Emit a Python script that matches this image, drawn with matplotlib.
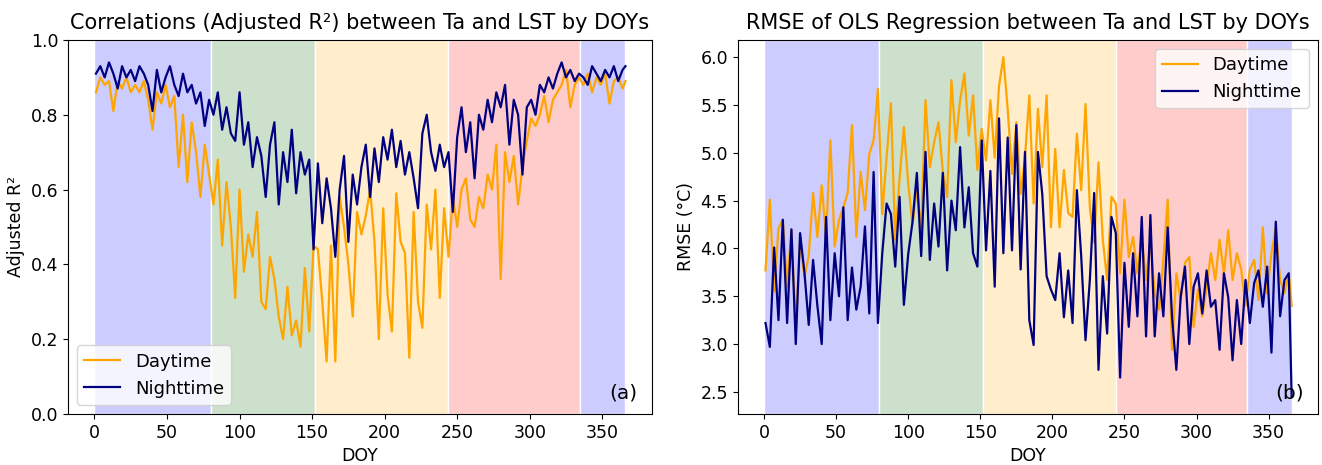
import matplotlib
matplotlib.use("Agg")
import matplotlib.pyplot as plt

DOY = list(range(1, 365, 3)) + [366]

DAY_R2 = [
    0.86, 0.90, 0.88, 0.89, 0.81, 0.89, 0.87, 0.90, 0.86, 0.88, 0.86, 0.89, 0.84, 0.76,
    0.86, 0.83, 0.88, 0.82, 0.85, 0.66, 0.80, 0.62, 0.78, 0.70, 0.58, 0.72, 0.64,
    0.56, 0.68, 0.45, 0.62, 0.50, 0.31, 0.60, 0.38, 0.48, 0.42, 0.54, 0.30, 0.28,
    0.42, 0.36, 0.26, 0.20, 0.34, 0.21, 0.25, 0.18, 0.39, 0.22, 0.45,
    0.44, 0.30, 0.14, 0.45, 0.14, 0.58, 0.50, 0.40, 0.26, 0.54, 0.48, 0.53, 0.60, 0.46, 0.20,
    0.55, 0.32, 0.22, 0.59, 0.46, 0.43, 0.15, 0.54, 0.30, 0.23, 0.56, 0.44, 0.60, 0.31, 0.55,
    0.42, 0.58, 0.50, 0.60, 0.63, 0.52, 0.50, 0.58, 0.55, 0.64, 0.60, 0.72, 0.36, 0.70,
    0.62, 0.69, 0.56, 0.66,
    0.73, 0.79, 0.77, 0.80, 0.85, 0.78, 0.84, 0.86, 0.88, 0.92, 0.82, 0.88, 0.90,
    0.88, 0.91, 0.86, 0.90, 0.88, 0.91, 0.83, 0.89, 0.90, 0.87, 0.89,
]

NIGHT_R2 = [
    0.91, 0.93, 0.90, 0.94, 0.91, 0.87, 0.93, 0.90, 0.92, 0.89, 0.93, 0.91, 0.88, 0.81,
    0.92, 0.86, 0.90, 0.93, 0.88, 0.85, 0.91, 0.86, 0.88, 0.83, 0.86, 0.77, 0.84,
    0.80, 0.86, 0.76, 0.82, 0.75, 0.73, 0.86, 0.72, 0.78, 0.66, 0.74, 0.69, 0.58,
    0.72, 0.78, 0.56, 0.70, 0.62, 0.76, 0.59, 0.70, 0.64, 0.68, 0.44,
    0.67, 0.51, 0.63, 0.55, 0.42, 0.60, 0.69, 0.46, 0.64, 0.56, 0.66, 0.72, 0.58, 0.71, 0.62,
    0.74, 0.68, 0.76, 0.66, 0.73, 0.64, 0.70, 0.63, 0.55, 0.75, 0.80, 0.70, 0.65, 0.72, 0.66,
    0.70, 0.54, 0.74, 0.82, 0.70, 0.78, 0.63, 0.80, 0.76, 0.84, 0.78, 0.86, 0.82, 0.88,
    0.72, 0.84, 0.80, 0.64,
    0.82, 0.84, 0.80, 0.88, 0.86, 0.90, 0.87, 0.91, 0.94, 0.90, 0.92, 0.89, 0.91,
    0.90, 0.88, 0.93, 0.91, 0.89, 0.92, 0.90, 0.93, 0.89, 0.92, 0.93,
]

DAY_RMSE = [
    3.77, 4.51, 3.55, 4.21, 4.30, 3.60, 4.19, 3.15, 4.09, 3.70, 3.92, 4.58, 4.12, 4.66,
    4.12, 5.13, 4.02, 4.30, 4.43, 4.58, 5.29, 4.12, 4.80, 4.40, 4.99, 5.13, 5.67,
    4.36, 4.95, 5.52, 4.09, 4.73, 5.27, 4.68, 4.25, 4.64, 4.19, 5.55, 4.85, 5.11,
    5.32, 4.81, 4.54, 5.76, 5.11, 5.55, 5.83, 5.18, 5.60, 4.82, 5.25,
    4.92, 5.55, 4.95, 5.70, 6.00, 5.46, 4.78, 5.32, 4.57, 4.95, 5.60, 4.47, 5.46, 4.85, 5.60,
    4.22, 5.04, 4.22, 4.82, 4.37, 4.33, 5.20, 4.61, 5.51, 4.43, 4.06, 4.90, 4.09, 3.67, 4.54,
    4.47, 3.74, 4.51, 3.91, 4.12, 3.74, 4.12, 3.67, 4.09, 3.53, 3.36, 3.88, 4.51, 2.94,
    3.74, 3.46, 3.85, 3.91,
    3.18, 3.57, 3.29, 3.60, 3.95, 3.67, 4.09, 3.74, 4.19, 3.67, 3.95, 3.78, 3.40,
    3.78, 3.88, 3.46, 4.22, 3.53, 3.95, 4.22, 3.67, 3.53, 3.74, 3.40,
]

NIGHT_RMSE = [
    3.22, 2.97, 4.01, 3.25, 4.30, 3.22, 4.20, 3.00, 4.16, 3.75, 3.20, 3.88, 3.40, 3.00,
    4.33, 3.25, 3.95, 3.50, 4.43, 3.25, 3.80, 3.36, 3.60, 4.23, 3.32, 4.80, 3.22,
    3.95, 4.47, 4.36, 3.81, 4.54, 3.41, 3.94, 4.28, 4.79, 3.92, 5.01, 3.88, 4.47,
    4.02, 4.79, 3.77, 4.50, 4.19, 5.06, 4.22, 4.64, 3.95, 3.81, 5.13,
    3.98, 4.81, 3.60, 5.36, 3.95, 5.16, 3.98, 5.29, 3.78, 5.01, 3.25, 2.99, 5.01, 4.57, 3.71,
    3.57, 3.46, 3.95, 3.28, 3.77, 3.22, 4.61, 3.92, 3.04, 3.67, 4.58, 2.73, 3.71, 3.11, 4.33,
    4.16, 2.65, 3.85, 3.18, 3.95, 3.29, 4.33, 3.08, 4.35, 3.08, 3.74, 3.29, 4.22, 3.29,
    2.73, 3.49, 3.81, 3.00,
    3.60, 3.74, 3.32, 3.77, 3.39, 3.46, 2.94, 3.74, 3.49, 2.83, 3.46, 3.00, 3.67,
    3.22, 3.64, 3.77, 3.39, 3.81, 2.91, 4.28, 3.29, 3.67, 3.74, 2.45,
]

# season bands: (start DOY, end DOY, colour)
SEASONS = [
    (0, 80, "blue"),
    (80, 152, "darkgreen"),
    (152, 244, "orange"),
    (244, 335, "red"),
    (335, 366, "blue"),
]

FS = 12.5

fig = plt.figure(figsize=(13.22, 4.65), dpi=100)
ax1 = fig.add_axes([0.0514, 0.110, 0.4418, 0.804])
ax2 = fig.add_axes([0.558, 0.110, 0.439, 0.804])

panels = [
    (ax1, DAY_R2, NIGHT_R2, "Correlations (Adjusted R²) between Ta and LST by DOYs",
     "Adjusted R²", "lower left", "(a)"),
    (ax2, DAY_RMSE, NIGHT_RMSE, "RMSE of OLS Regression between Ta and LST by DOYs",
     "RMSE (°C)", "upper right", "(b)"),
]

for ax, day, night, title, ylabel, legloc, tag in panels:
    for lo, hi, c in SEASONS:
        ax.axvspan(lo, hi, facecolor=matplotlib.colors.to_rgba(c, 0.2),
                   edgecolor="white", lw=1)
    ax.plot(DOY, day, color="orange", lw=1.6, label="Daytime")
    ax.plot(DOY, night, color="navy", lw=1.6, label="Nighttime")
    ax.set_xlim(-18.3, 384.3)
    ax.set_xticks(range(0, 351, 50))
    ax.set_title(title, fontsize=15, pad=8)
    ax.set_xlabel("DOY", fontsize=FS)
    ax.set_ylabel(ylabel, fontsize=FS)
    ax.tick_params(labelsize=FS)
    ax.legend(loc=legloc, fontsize=13)
    ax.text(0.975, 0.03, tag, transform=ax.transAxes, ha="right", va="bottom",
            fontsize=14.5)

ax1.set_ylim(0, 1.0)
ax2.set_ylim(2.27, 6.18)
ax2.set_yticks([2.5, 3.0, 3.5, 4.0, 4.5, 5.0, 5.5, 6.0])

fig.savefig("out.png", dpi=100)
